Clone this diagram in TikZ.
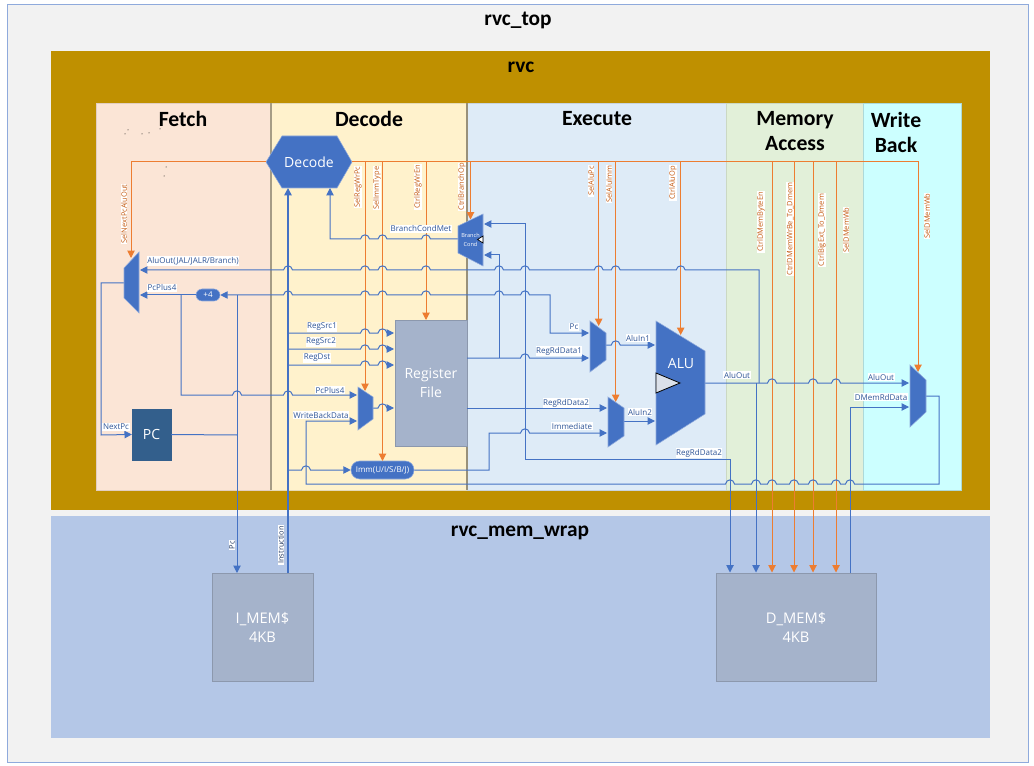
\documentclass[tikz,border=0pt]{standalone}
\usepackage{fontspec}
\setmainfont{Open Sans}
\newfontfamily\hdfont{Carlito}
\usetikzlibrary{arrows.meta}
\definecolor{bluel}{HTML}{4472C4}
\definecolor{orangel}{HTML}{ED7D31}
\definecolor{labb}{HTML}{2F5597}
\definecolor{labo}{HTML}{C55A11}
\definecolor{topbg}{HTML}{F2F2F2}
\definecolor{topbd}{HTML}{8FAADC}
\definecolor{gold}{HTML}{BF9000}
\definecolor{memw}{HTML}{B4C7E7}
\definecolor{fetchc}{HTML}{FBE5D6}
\definecolor{decodec}{HTML}{FFF2CC}
\definecolor{execc}{HTML}{DEEBF7}
\definecolor{memc}{HTML}{E2F0D9}
\definecolor{wbc}{HTML}{CCFFFF}
\definecolor{blockc}{HTML}{A5B3CB}
\definecolor{pcc}{HTML}{335F8C}
\tikzset{
  bl/.style={draw=bluel,line width=0.75pt,>={Triangle[length=5.5pt,width=5.5pt]}},
  blthick/.style={bl,line width=1.2pt},
  ol/.style={draw=orangel,line width=0.75pt,>={Triangle[length=5.5pt,width=5.5pt]}},
  phase/.style={line width=0.6pt},
  title/.style={font=\hdfont\bfseries\fontsize{16}{18}\selectfont,text=black,inner sep=0pt},
  head/.style={font=\hdfont\bfseries\fontsize{16.3}{18.75}\selectfont,text=black,inner sep=0pt,align=center},
  lab/.style={font=\fontsize{6}{7}\selectfont,text=labb,fill=white,inner xsep=0.4pt,inner ysep=0.6pt},
  vlab/.style={font=\fontsize{5.6}{6.5}\selectfont,text=labo,fill=white,inner xsep=0.6pt,inner ysep=0.4pt,rotate=90},
  vlabb/.style={font=\fontsize{5.6}{6.5}\selectfont,text=labb!60!black,fill=white,inner xsep=0.6pt,inner ysep=0.4pt,rotate=90},
  muxshape/.style={fill=bluel,draw=bluel!60!white,line width=0.4pt},
  blockn/.style={fill=blockc,draw=blockc!85!black,line width=0.5pt,text=white,align=center,inner sep=0pt},
  pill/.style={rounded corners=4.5pt,fill=bluel,draw=bluel!60!white,line width=0.4pt,text=white,inner sep=0pt},
  ghost/.style={inner sep=0pt,text=white,align=center}
}
% horizontal run with hops over the given x positions
\newcommand{\hops}[2]{foreach \hx in {#1} { -- (\hx-4.5,#2) .. controls (\hx-3.5,#2-5.5) and (\hx+3.5,#2-5.5) .. (\hx+4.5,#2) }}
% mux: name, x left, x right, left top, left bottom, right top, right bottom
\newcommand{\muxdraw}[7]{
  \filldraw[muxshape] (#2,#4) -- (#3,#6) -- (#3,#7) -- (#2,#5) -- cycle;
  \node[inner sep=0pt,minimum width=0pt] (#1) at ({(#2+#3)/2},{(#4+#5)/2}) {};
}
\begin{document}
\begin{tikzpicture}[x=0.75pt,y=-0.75pt]
\useasboundingbox (0,0) rectangle (1034,766);
\fill[white] (0,0) rectangle (1034,766);
% containers
\node[draw=topbd,fill=topbg,line width=0.6pt,minimum width=765.75pt,minimum height=568.5pt,inner sep=0pt,anchor=north west] (rvctop) at (7,4) {};
\node[fill=gold,minimum width=704.25pt,minimum height=344.25pt,inner sep=0pt,anchor=north west] (rvc) at (51,51) {};
\node[fill=memw,minimum width=704.25pt,minimum height=166.5pt,inner sep=0pt,anchor=north west] (memwrap) at (51,516) {};
\node[title] (t1) at (518,20) {rvc\_top};
\node[title] (t2) at (521,67) {rvc};
\node[title] (t3) at (520,533) {rvc\_mem\_wrap};
% pipeline stages
\filldraw[phase,fill=fetchc,draw=fetchc!90!black] (96,103) rectangle (271,490);
\filldraw[phase,fill=decodec,draw=decodec!90!black] (271,103) rectangle (467,490);
\filldraw[phase,fill=execc,draw=execc!90!black] (467,103) rectangle (726,490);
\filldraw[phase,fill=memc,draw=memc!90!black] (726,103) rectangle (863,490);
\filldraw[phase,fill=wbc,draw=wbc!85!black] (863,103) rectangle (961,490);
\draw[line width=0.9pt,draw=black!35!decodec] (271,103) -- (271,490);
\draw[line width=0.9pt,draw=black!40!decodec] (467,103) -- (467,490);
\node[head] (hf) at (183,119) {Fetch};
\node[head] (hd) at (369,119) {Decode};
\node[head] (he) at (597,119) {Execute};
\node[head,anchor=north] (hm) at (795,111.5) {Memory\\Access};
\node[head,anchor=north] (hw) at (896,111.5) {Write\\Back};
% specks
\foreach \sx/\sy in {128/130,125/134,142/134,149/133,160/129,166/167,164/176}
  \fill[black] (\sx,\sy) circle[radius=0.5];
% nodes
\filldraw[fill=bluel,draw=bluel!60!white,line width=0.4pt] (266,162) -- (282,136) -- (337,136) -- (352,162) -- (337,188) -- (282,188) -- cycle;
\node[ghost,font=\fontsize{10.5}{12}\selectfont] (decode) at (309,162) {Decode};
\node[blockn,font=\fontsize{10.5}{14.25}\selectfont,minimum width=54pt,minimum height=94.5pt] (rf) at (431,383) {Register\\File};
\node[blockn,fill=pcc,draw=pcc,font=\fontsize{10.5}{12}\selectfont,minimum width=29pt,minimum height=38.25pt] (pc) at (151.5,434.5) {PC};
\node[blockn,font=\fontsize{11}{14.25}\selectfont,minimum width=75.75pt,minimum height=81pt] (imem) at (262.5,627) {I\_MEM\$\\4KB};
\node[blockn,font=\fontsize{11}{14.25}\selectfont,minimum width=120pt,minimum height=81pt] (dmem) at (796,627) {D\_MEM\$\\4KB};
\node[pill,font=\fontsize{6}{7}\selectfont,minimum width=18pt,minimum height=9pt] (plusfour) at (208,295) {+4};
\node[pill,rounded corners=6.5pt,font=\fontsize{6}{7}\selectfont,minimum width=47.25pt,minimum height=13.5pt] (imm) at (382.5,470) {Imm(U/I/S/B/J)};
% ports
\coordinate (dIn1) at (288,188);
\coordinate (dIn2) at (330,188);
% orange control lines
\draw[ol,->] (266,161.5) -- (131,161.5) -- (131,258);
\draw[ol] (352,161.5) -- (918,161.5);
\draw[ol,->] (365,161.5) -- (365,391);
\draw[ol,->] (382.5,161.5) -- (382.5,461);
\draw[ol,->] (426,161.5) -- (426,320);
\draw[ol,->] (470.5,161.5) -- (470.5,219.5);
\draw[ol,->] (598.7,161.5) -- (598.7,326);
\draw[ol,->] (615.7,161.5) -- (615.7,402);
\draw[ol,->] (680.7,161.5) -- (680.7,335);
\draw[ol,->] (772,161.5) -- (772,572.5);
\draw[ol,->] (794,161.5) -- (794,572.5);
\draw[ol,->] (813,161.5) -- (813,572.5);
\draw[ol,->] (836,161.5) -- (836,572.5);
\draw[ol,->] (918,161.5) -- (918,372);
% blue data lines
\draw[blthick,->] (288,573) -- (dIn1);
\draw[bl,<-] (dIn2) -- (330,239) \hops{365,382.5,426}{239} -- (459,239);
\draw[bl,<-] (140,270) \hops{288,365,382.5,426,499,525,598.7,615.7,680.7}{270} -- (759,270) -- (759,383);
\draw[bl,<->] (plusfour.east) \hops{288,365,382.5,426,499,525}{295} -- (550,295) -- (550,333) -- (589,333);
\draw[bl,->] (plusfour.west) -- (140,295);
\draw[bl,->] (181,295) -- (181,395) \hops{237,288}{395} -- (357,395);
\draw[bl,->] (237,295) -- (237,573);
\draw[bl] (pc.east) -- (237,435);
\draw[bl,->] (124,283) -- (101,283) -- (101,435) -- (pc.west);
\draw[bl,->] (288,333) \hops{365,382.5}{333} -- (394,333);
\draw[bl,->] (288,349) \hops{365,382.5}{349} -- (394,349);
\draw[bl,->] (288,365) \hops{365,382.5}{365} -- (394,365);
\draw[bl,->] (373,408) \hops{382.5}{408} -- (394,408);
\draw[bl,<-] (357,421) -- (306,421) -- (306,484) \hops{730,756,772,794,813,836,850}{484} -- (939,484) -- (939,396) -- (926,396);
\draw[bl,->] (288,470) \hops{306}{470} -- (imm.west);
\draw[bl,->] (imm.east) -- (489,470) -- (489,433) \hops{525}{433} -- (607,433);
\draw[bl,->] (467,358) \hops{525}{358} -- (589,358);
\draw[bl,->] (499,358) -- (499,255) -- (484,255);
\draw[bl,->] (467,408) -- (607,408);
\draw[bl,<->] (484,224) -- (525,224) -- (525,459) -- (730,459) -- (730,572.5);
\draw[bl,->] (606,345) \hops{615.7}{345} -- (655,345);
\draw[bl,->] (624,421) -- (655,421);
\draw[bl,->] (705,383) \hops{772,813,836}{383} -- (909,383);
\draw[bl,->] (756,383) -- (756,572.5);
\draw[bl,->] (850,573) -- (850,407) -- (909,407);
% muxes
\muxdraw{muxnext}{124}{139}{268}{298}{252}{313}
\muxdraw{muxreg}{358}{373}{387}{430}{397}{419}
\muxdraw{muxa}{590}{606}{321}{372}{333}{360}
\muxdraw{muxb}{608}{624}{397}{447}{408}{436}
\muxdraw{muxwb}{910}{926}{365}{427}{380}{412}
\muxdraw{bcond}{458}{483}{226}{253}{214}{266}
\node[ghost,font=\fontsize{4.2}{6.5}\selectfont] (bctext) at (470.5,240) {Branch\\Cond};
\filldraw[fill=white,draw=black,line width=0.5pt] (477.5,239.5) -- (483,236) -- (483,243) -- cycle;
\muxdraw{alubody}{656}{705}{321}{445}{351}{414}
\node[ghost,font=\fontsize{10.5}{14}\selectfont] (alu) at (681,364) {ALU};
\filldraw[fill=blockc!40!white,draw=black,line width=0.6pt] (656,373) -- (680,383) -- (656,393) -- cycle;
% blue labels
\node[lab] (l1) at (193,261) {AluOut(JAL/JALR/Branch)};
\node[lab] (l2) at (162,288) {PcPlus4};
\node[lab] (l3) at (116,427) {NextPc};
\node[lab] (l4) at (322,327) {RegSrc1};
\node[lab] (l5) at (321,342) {RegSrc2};
\node[lab] (l6) at (317,358) {RegDst};
\node[lab] (l7) at (330,390) {PcPlus4};
\node[lab] (l8) at (321,415) {WriteBackData};
\node[lab] (l9) at (421,229) {BranchCondMet};
\node[lab] (l10) at (574,327) {Pc};
\node[lab] (l11) at (559,351) {RegRdData1};
\node[lab] (l12) at (566,403) {RegRdData2};
\node[lab] (l13) at (572,426) {Immediate};
\node[lab] (l14) at (638,338) {AluIn1};
\node[lab] (l15) at (640,412) {AluIn2};
\node[lab] (l16) at (699,453) {RegRdData2};
\node[lab] (l17) at (737,375) {AluOut};
\node[lab] (l18) at (881,377) {AluOut};
\node[lab] (l19) at (881,397) {DMemRdData};
% rotated control labels
\node[vlab] (v1) at (124,214) {SelNextPcAluOut};
\node[vlab] (v2) at (358,187) {SelRegWrPc};
\node[vlab] (v3) at (377,188) {SelImmType};
\node[vlab] (v4) at (418,187) {CtrlRegWrEn};
\node[vlab] (v5) at (462,187) {CtrlBranchOp};
\node[vlab] (v6) at (591,181) {SelAluPc};
\node[vlab] (v7) at (609,184) {SelAluImm};
\node[vlab] (v8) at (673,183) {CtrlAluOp};
\node[vlab] (v9) at (761,222) {CtrlDMemByteEn};
\node[vlab] (v10) at (790,229) {CtrlDMemWrBe\_To\_Dmem};
\node[vlab] (v11) at (822,230) {CtrlBigExt\_To\_Dmem};
\node[vlab] (v12) at (846,230) {SelDMemWb};
\node[vlab] (v13) at (927,216) {SelDMemWb};
\node[vlabb] (v14) at (232,545) {Pc};
\node[vlabb] (v15) at (281,545) {Instruction};
\end{tikzpicture}
\end{document}
